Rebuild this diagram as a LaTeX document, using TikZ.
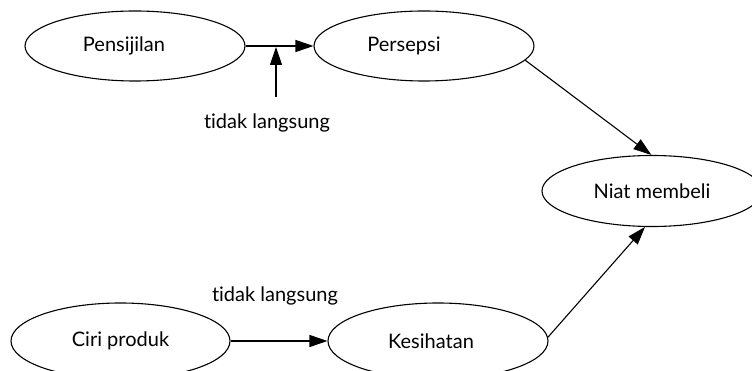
\documentclass[tikz,border=0pt]{standalone}
\usepackage{fontspec}
\setmainfont{Lato}[Ligatures={NoCommon}]
\usetikzlibrary{arrows.meta,shapes.geometric}
\newcommand{\shiftleft}[1]{\hspace*{-#1}}
\begin{document}
\begin{tikzpicture}[x=1pt,y=-1pt,
  every node/.style={font=\fontsize{20}{23}\selectfont},
  oval/.style={draw,ellipse,line width=1.1pt,inner sep=0pt},
  conn/.style={line width=1.1pt,-{Triangle[length=18pt,width=12pt]}},
  lbl/.style={inner sep=1pt}]
\useasboundingbox (0,0) rectangle (752,371);
\node[oval,minimum width=220pt,minimum height=70pt] (pens) at (135,46) {\shiftleft{22pt}Pensijilan};
\node[oval,minimum width=220pt,minimum height=70pt] (pers) at (424,46) {\shiftleft{40pt}Persepsi};
\node[oval,minimum width=220pt,minimum height=71pt] (niat) at (652,191) {Niat membeli};
\node[oval,minimum width=219pt,minimum height=76pt] (ciri) at (120.5,341) {Ciri produk};
\node[oval,minimum width=220pt,minimum height=76pt] (kes) at (438,341) {\shiftleft{14pt}Kesihatan};
\node[lbl] (l1) at (267,123) {tidak langsung};
\node[lbl] (l2) at (275,296) {tidak langsung};
\coordinate (v1) at (276,97);
\coordinate (j1) at (276,47);
\draw[conn] (pens) -- (pers);
\draw[conn] (v1) -- (j1);
\draw[conn] (pers.-8) -- (niat.91);
\draw[conn] (ciri) -- (kes);
\draw[conn] (kes.2) -- (niat.-101);
\end{tikzpicture}
\end{document}
